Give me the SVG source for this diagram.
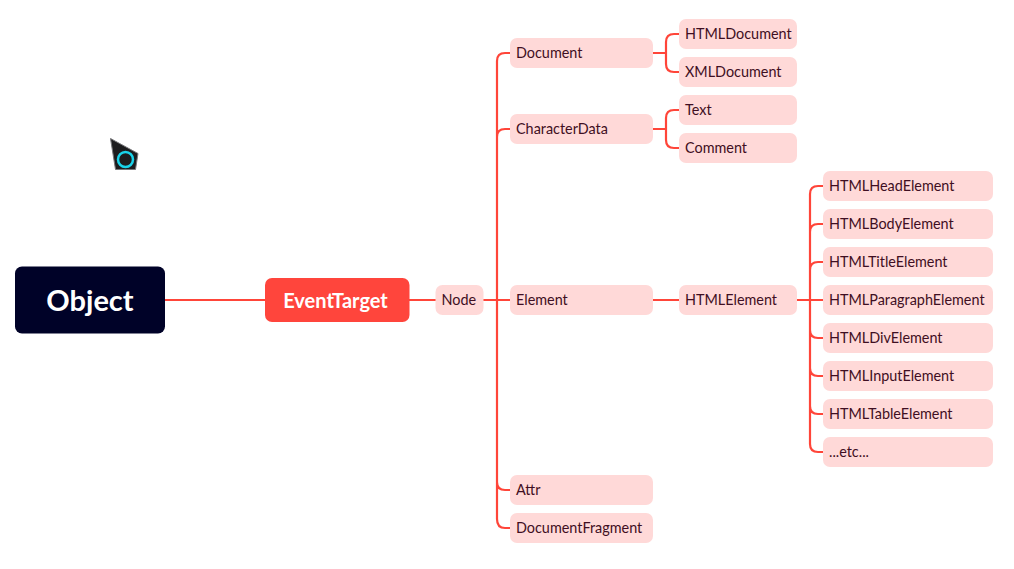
<svg xmlns="http://www.w3.org/2000/svg" width="1014" height="569" viewBox="0 0 1014 569">
<style>
text{font-family:"Lato","Noto Sans","Liberation Sans",sans-serif;dominant-baseline:central}
.n rect{fill:#ffd9d8}
.n text{font-size:14.4px;fill:#3f0f23}
.c path{fill:none;stroke:#ff4539;stroke-width:2.2}
</style>
<rect width="1014" height="569" fill="#fff"/>
<g id="cursor"><polygon points="110.500,138.500 138,153.500 135.500,169.500 115.500,169.500" fill="#1d1d1f" stroke="#77777a" stroke-width="1"/><circle cx="125.500" cy="159.500" r="7.500" fill="none" stroke="#19d3ea" stroke-width="2.500"/></g>
<g id="connectors" class="c">
<path d="M165 300H265M409 300H436M483 300H510"/>
<path d="M510 53H505Q497 53 497 61V519Q497 528 505 528H510M497 137Q497 129 505 129H510M497 482Q497 490 505 490H510"/>
<path d="M653 53H666M679 34H674Q666 34 666 42V64Q666 72 674 72H679"/>
<path d="M653 129H666M679 110H674Q666 110 666 118V140Q666 148 674 148H679"/>
<path d="M653 300H679M797 300H823"/>
<path d="M823 186H818Q810 186 810 194V444Q810 452 818 452H823M810 232Q810 224 818 224H823M810 270Q810 262 818 262H823M810 330Q810 338 818 338H823M810 368Q810 376 818 376H823M810 406Q810 414 818 414H823"/>
</g>
<g id="object"><rect x="15" y="266.500" width="150" height="67" rx="7" fill="#000228"/><text x="90" y="299" text-anchor="middle" style="font-size:29px;font-weight:700;fill:#fff">Object</text></g>
<g id="eventtarget"><rect x="265" y="278" width="144.500" height="44" rx="7" fill="#ff453c"/><text x="335.500" y="299.500" text-anchor="middle" style="font-size:20px;font-weight:700;fill:#fff">EventTarget</text></g>
<g id="node" class="n"><rect x="435.500" y="285" width="48" height="30" rx="7"/><text x="441.500" y="299">Node</text></g>
<g id="document" class="n"><rect x="510" y="38" width="143" height="30" rx="7"/><text x="516" y="52">Document</text></g>
<g id="characterdata" class="n"><rect x="510" y="114" width="143" height="30" rx="7"/><text x="516" y="128">CharacterData</text></g>
<g id="element" class="n"><rect x="510" y="285" width="143" height="30" rx="7"/><text x="516" y="299">Element</text></g>
<g id="attr" class="n"><rect x="510" y="475" width="143" height="30" rx="7"/><text x="516" y="489">Attr</text></g>
<g id="documentfragment" class="n"><rect x="510" y="513" width="143" height="30" rx="7"/><text x="516" y="527">DocumentFragment</text></g>
<g id="htmldocument" class="n"><rect x="679" y="19" width="118" height="30" rx="7"/><text x="685" y="33">HTMLDocument</text></g>
<g id="xmldocument" class="n"><rect x="679" y="57" width="118" height="30" rx="7"/><text x="685" y="71">XMLDocument</text></g>
<g id="text" class="n"><rect x="679" y="95" width="118" height="30" rx="7"/><text x="685" y="109">Text</text></g>
<g id="comment" class="n"><rect x="679" y="133" width="118" height="30" rx="7"/><text x="685" y="147">Comment</text></g>
<g id="htmlelement" class="n"><rect x="679" y="285" width="118" height="30" rx="7"/><text x="685" y="299">HTMLElement</text></g>
<g id="head" class="n"><rect x="823" y="171" width="170" height="30" rx="7"/><text x="829" y="185">HTMLHeadElement</text></g>
<g id="body" class="n"><rect x="823" y="209" width="170" height="30" rx="7"/><text x="829" y="223">HTMLBodyElement</text></g>
<g id="title" class="n"><rect x="823" y="247" width="170" height="30" rx="7"/><text x="829" y="261">HTMLTitleElement</text></g>
<g id="paragraph" class="n"><rect x="823" y="285" width="170" height="30" rx="7"/><text x="829" y="299">HTMLParagraphElement</text></g>
<g id="div" class="n"><rect x="823" y="323" width="170" height="30" rx="7"/><text x="829" y="337">HTMLDivElement</text></g>
<g id="input" class="n"><rect x="823" y="361" width="170" height="30" rx="7"/><text x="829" y="375">HTMLInputElement</text></g>
<g id="table" class="n"><rect x="823" y="399" width="170" height="30" rx="7"/><text x="829" y="413">HTMLTableElement</text></g>
<g id="etc" class="n"><rect x="823" y="437" width="170" height="30" rx="7"/><text x="829" y="451">...etc...</text></g>
</svg>
